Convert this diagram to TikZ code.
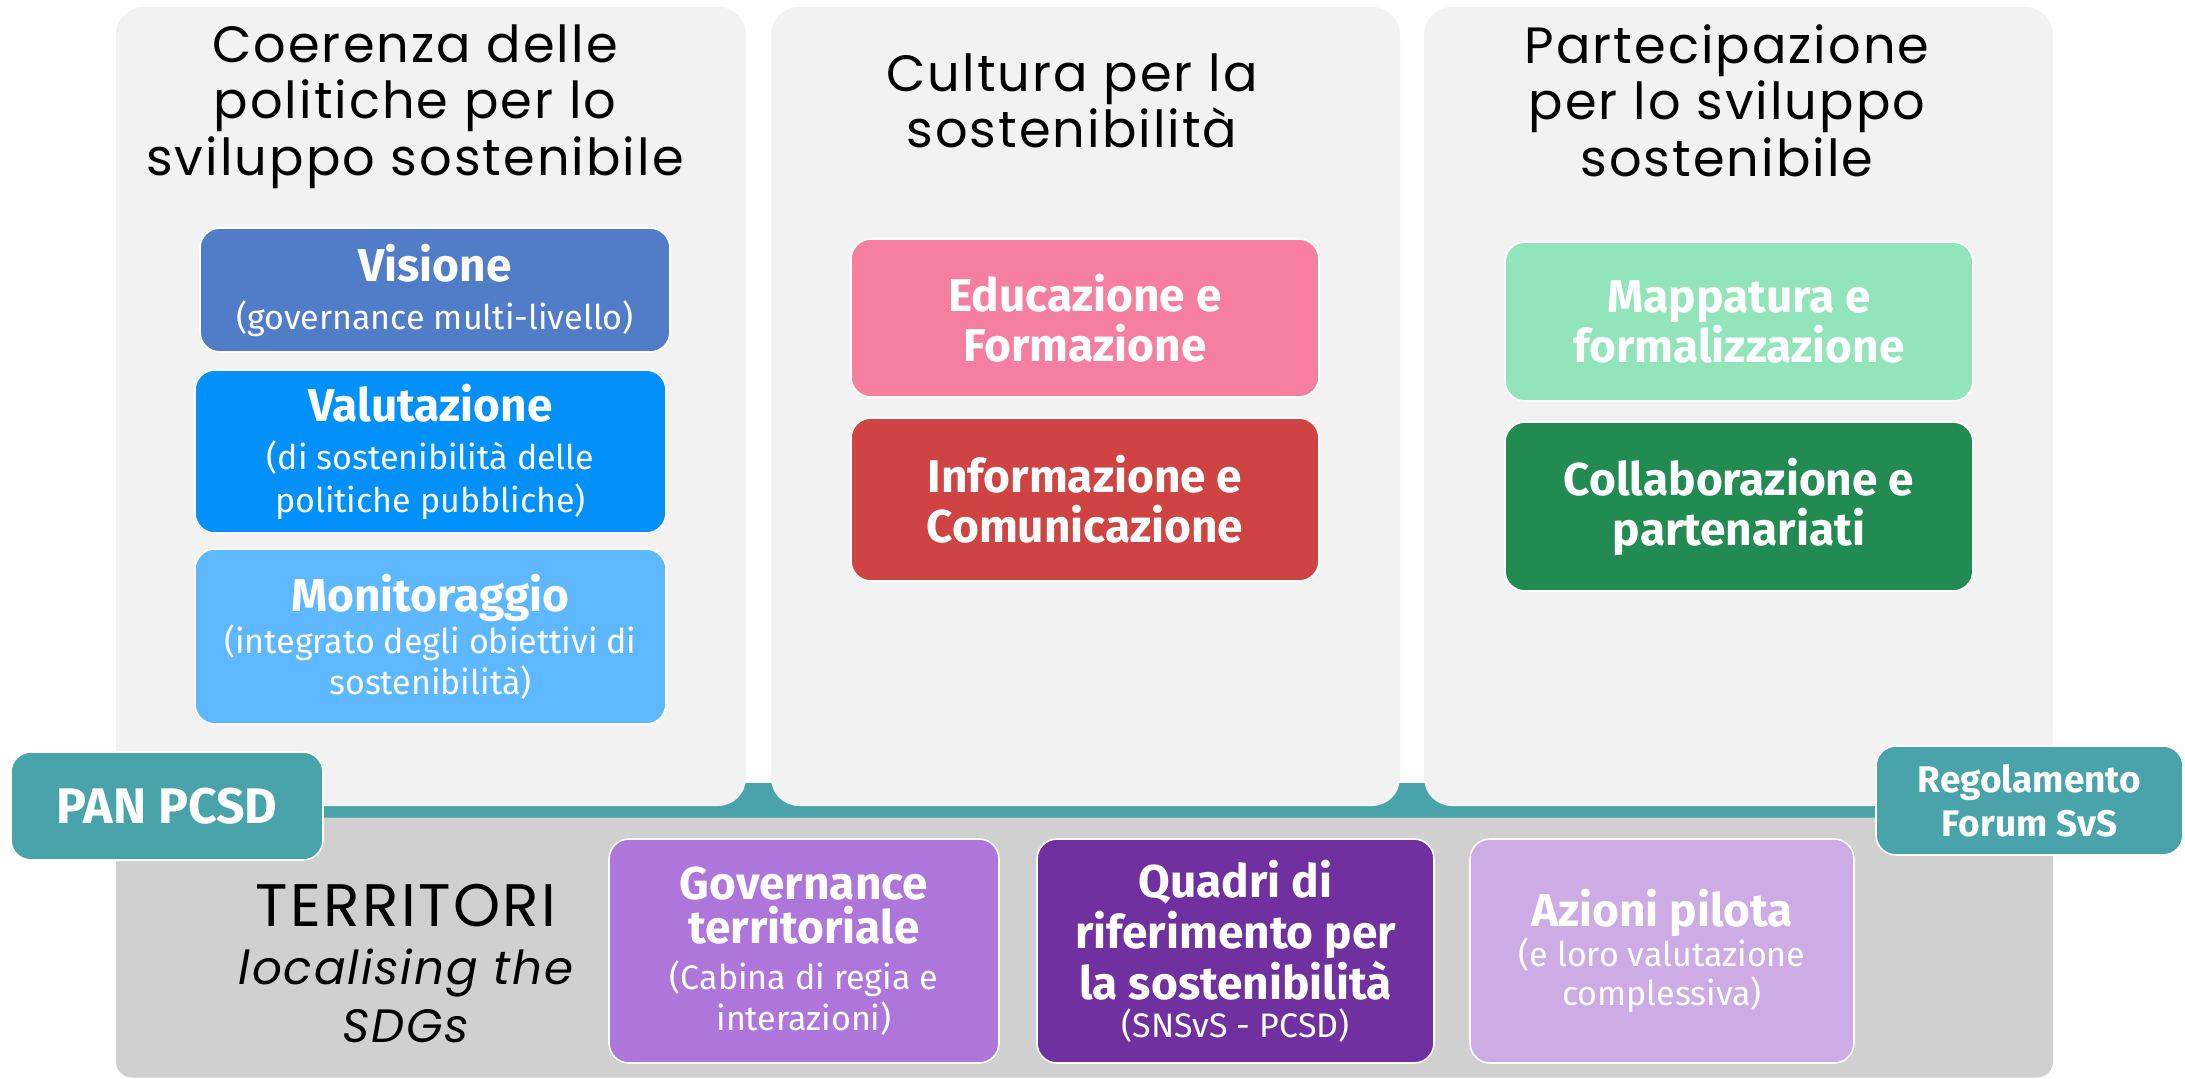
\documentclass[tikz,border=0pt]{standalone}
\usepackage{fontspec}
\setmainfont{Fira Sans}
\newfontfamily\ttlfont[LetterSpace=4]{Poppins}
\newfontfamily\bxfont{Fira Sans}
\definecolor{panelgray}{HTML}{F2F2F2}
\definecolor{basegray}{HTML}{D0D0D0}
\definecolor{tealc}{HTML}{48A4AA}
\definecolor{cVis}{HTML}{517DC8}
\definecolor{cVal}{HTML}{0290FA}
\definecolor{cMon}{HTML}{5EB8FF}
\definecolor{cEdu}{HTML}{F67FA1}
\definecolor{cInf}{HTML}{CF4343}
\definecolor{cMap}{HTML}{92E5BA}
\definecolor{cCol}{HTML}{228B52}
\definecolor{cGov}{HTML}{AE76DA}
\definecolor{cQua}{HTML}{7030A0}
\definecolor{cAzi}{HTML}{CDABE4}
% #1 title baselineskip, #2 sub baselineskip
\newcommand\boxttl[1]{\fontsize{23}{#1}\selectfont\bfseries}
\newcommand\boxsub[1]{\fontsize{17}{#1}\selectfont\mdseries}
\newcommand\ttlsize{\fontsize{25.5}{28.3}\selectfont}
% width, title bskip, title, gap, sub bskip, subtitle
\newcommand\tsub[6]{\parbox{#1}{\centering\boxttl{#2}#3\par\vspace{#4}\boxsub{#5}#6\par}}
\newcommand\tonly[2]{\parbox{#1}{\centering\boxttl{25pt}#2\par}}
\begin{document}
\begin{tikzpicture}[x=0.5pt,y=-0.5pt,
  panel/.style={fill=panelgray, rounded corners=14pt, inner sep=0pt, draw=none},
  item/.style={draw=white, line width=0.8pt, rounded corners=10pt, text=white, inner sep=0pt, font=\bxfont},
  tag/.style={fill=tealc, draw=white, line width=0.8pt, rounded corners=10pt, text=white, align=center, inner sep=0pt},
  ttl/.style={align=center, inner sep=0pt, text=black, font=\ttlfont\ttlsize}]
\useasboundingbox (0,0) rectangle (2185,1078);
\fill[white] (0,0) rectangle (2185,1078);

% base band and territory panel
\node[fill=tealc, inner sep=0pt, minimum width=968.5pt, minimum height=19pt] (band) at (1084.5,801.5) {};
\node[fill=basegray, rounded corners=8pt, inner sep=0pt, minimum width=968.5pt, minimum height=130pt] (terrpanel) at (1084.5,947.5) {};

% columns
\node[panel, minimum width=315pt, minimum height=399.5pt] (p1) at (431,406.5) {};
\node[panel, minimum width=314.5pt, minimum height=399.5pt] (p2) at (1085.5,406.5) {};
\node[panel, minimum width=314.5pt, minimum height=399.5pt] (p3) at (1738.5,406.5) {};

% titles
\node[ttl, anchor=north] (t1) at (415,24) {Coerenza delle\\politiche per lo\\sviluppo sostenibile};
\node[ttl, anchor=north] (t2) at (1072,53) {Cultura per la\\sostenibilità};
\node[ttl, anchor=north] (t3) at (1727,24) {Partecipazione\\per lo sviluppo\\sostenibile};

% column 1
\node[item, fill=cVis, minimum width=235pt, minimum height=62pt] (vis) at (435,290)
  {\tsub{225pt}{25pt}{Visione}{2.5pt}{21.5pt}{(governance multi-livello)}};
\node[item, fill=cVal, minimum width=235.5pt, minimum height=81.5pt] (val) at (430.5,451.5)
  {\tsub{225pt}{25pt}{Valutazione}{2.5pt}{21.5pt}{(di sostenibilità delle\\politiche pubbliche)}};
\node[item, fill=cMon, minimum width=235.5pt, minimum height=87.5pt] (mon) at (430.5,636.5)
  {\tsub{225pt}{25pt}{Monitoraggio}{0.5pt}{20.5pt}{(integrato degli obiettivi di\\sostenibilità)}};

% column 2
\node[item, fill=cEdu, minimum width=234pt, minimum height=79pt] (edu) at (1085,318)
  {\tonly{225pt}{Educazione e\\Formazione}};
\node[item, fill=cInf, minimum width=234pt, minimum height=81.5pt] (inf) at (1085,499.5)
  {\tonly{225pt}{Informazione e\\Comunicazione}};

% column 3
\node[item, fill=cMap, minimum width=234pt, minimum height=79.5pt] (map) at (1739,321.5)
  {\tonly{225pt}{Mappatura e\\formalizzazione}};
\node[item, fill=cCol, minimum width=234pt, minimum height=84.5pt] (col) at (1739,506.5)
  {\tonly{225pt}{Collaborazione e\\partenariati}};

% territory row
\node[align=center, inner sep=0pt, anchor=north, font=\ttlfont\fontsize{30}{29}\selectfont] (terr) at (406,884)
  {TERRITORI\\\fontsize{23.4}{29}\selectfont\itshape localising the\\\fontsize{23.4}{29}\selectfont\itshape SDGs};
\node[item, fill=cGov, minimum width=195pt, minimum height=112pt] (gov) at (804,951)
  {\tsub{185pt}{22pt}{Governance\\territoriale}{2.5pt}{20.5pt}{(Cabina di regia e\\interazioni)}};
\node[item, fill=cQua, minimum width=198.5pt, minimum height=112pt] (qua) at (1235.5,951)
  {\tsub{190pt}{25.5pt}{Quadri di\\riferimento per\\la sostenibilità}{-1pt}{20pt}{(SNSvS - PCSD)}};
\node[item, fill=cAzi, minimum width=192pt, minimum height=112pt] (azi) at (1662,951)
  {\tsub{185pt}{25pt}{Azioni pilota}{0.5pt}{19.5pt}{(e loro valutazione\\complessiva)}};

% tags
\node[tag, minimum width=156pt, minimum height=54pt, font=\bxfont\bfseries\fontsize{25}{28}\selectfont] (pan) at (167,806) {PAN PCSD};
\node[tag, minimum width=153.5pt, minimum height=54.5pt, font=\bxfont\bfseries\fontsize{18.5}{22}\selectfont] (reg) at (2029.5,800.5) {Regolamento\\Forum SvS};
\end{tikzpicture}
\end{document}
